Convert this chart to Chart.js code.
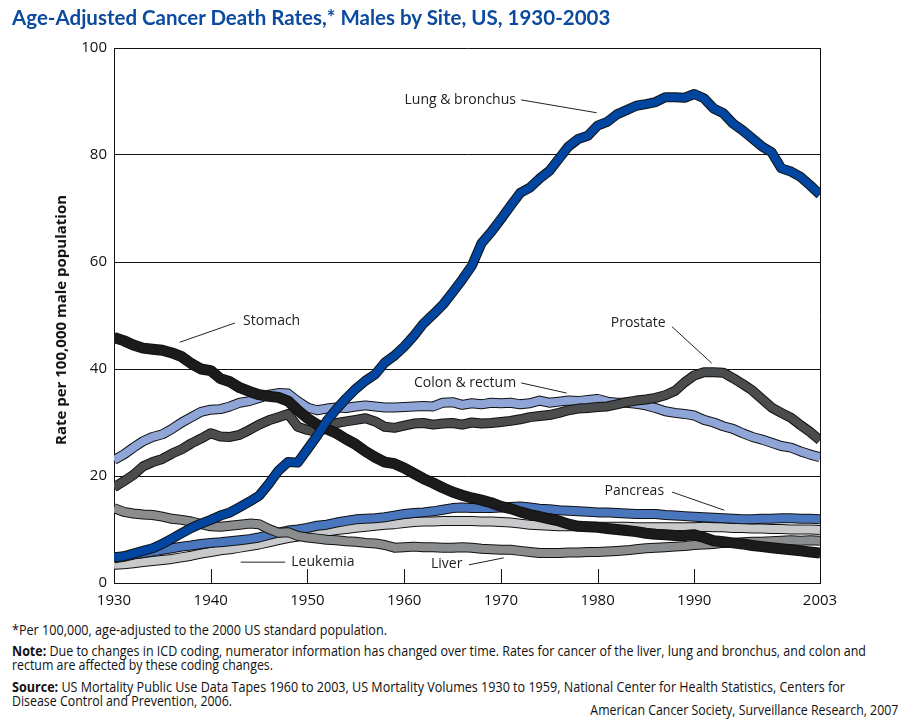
<!DOCTYPE html>
<html>
<head>
<meta charset="utf-8">
<script src="https://cdn.jsdelivr.net/npm/chart.js@4.4.1/dist/chart.umd.min.js"></script>
<style>
  html, body { margin: 0; padding: 0; background: #fff; }
  body { width: 908px; height: 728px; position: relative; overflow: hidden; font-family: "Open Sans", sans-serif; color: #111; }
  #chart { position: absolute; left: 0; top: 0; }
  .title { position: absolute; left: 12px; top: 5px; font-family: Lato, sans-serif; font-weight: bold; font-size: 20.5px; color: #0b4a9e; white-space: nowrap; }
  .ytitle { position: absolute; left: 60px; top: 320px; transform: translate(-50%, -50%) rotate(-90deg); font-weight: bold; font-size: 15px; white-space: nowrap; }
  .foot { position: absolute; left: 12px; font-size: 14px; line-height: 17px; white-space: nowrap; transform-origin: 0 50%; }
  .foot.right { left: auto; right: 10px; transform-origin: 100% 50%; }
</style>
</head>
<body>
<canvas id="chart" width="908" height="620"></canvas>
<div class="title">Age-Adjusted Cancer Death Rates,* Males by Site, US, 1930-2003</div>
<div class="ytitle">Rate per 100,000 male population</div>
<div class="foot" data-w="375" style="top:621px">*Per 100,000, age-adjusted to the 2000 US standard population.</div>
<div class="foot" data-w="854" style="top:642px"><b>Note:</b> Due to changes in ICD coding, numerator information has changed over time. Rates for cancer of the liver, lung and bronchus, and colon and</div>
<div class="foot" data-w="261" style="top:656px">rectum are affected by these coding changes.</div>
<div class="foot" data-w="833" style="top:678px"><b>Source:</b> US Mortality Public Use Data Tapes 1960 to 2003, US Mortality Volumes 1930 to 1959, National Center for Health Statistics, Centers for</div>
<div class="foot" data-w="220" style="top:692px">Disease Control and Prevention, 2006.</div>
<div class="foot right" data-w="308" style="top:701px">American Cancer Society, Surveillance Research, 2007</div>
<script>
// years 1930..2003
const firstYear = 1930;
const lastYear = 2003;
const years = [];
for (let y = firstYear; y <= lastYear; y++) years.push(y);

const xTickYears = [1930, 1940, 1950, 1960, 1970, 1980, 1990, 2003];
const yTickValues = [0, 20, 40, 60, 80, 100];

const lung = [
  4.8, 5.0, 5.5, 6.0, 6.5, 7.3, 8.3, 9.3, 10.3, 11.1,
  11.8, 12.6, 13.2, 14.2, 15.2, 16.3, 18.5, 21.0, 22.6, 22.5,
  25.0, 27.5, 30.3, 32.5, 34.5, 36.3, 37.8, 39.0, 41.2, 42.5,
  44.2, 46.2, 48.5, 50.2, 52.0, 54.3, 56.7, 59.3, 63.5, 65.6,
  68.0, 70.5, 72.9, 73.9, 75.6, 77.0, 79.3, 81.6, 83.0, 83.6,
  85.5, 86.2, 87.6, 88.4, 89.2, 89.5, 89.9, 90.8, 90.8, 90.7,
  91.4, 90.6, 88.7, 87.8, 85.9, 84.6, 83.1, 81.6, 80.5, 77.5,
  76.9, 75.9, 74.3, 72.6
];
const stomach = [
  45.9, 45.3, 44.5, 43.9, 43.7, 43.5, 43.0, 42.3, 41.0, 40.0,
  39.7, 38.2, 37.6, 36.5, 35.8, 35.2, 34.9, 34.7, 34.0, 32.3,
  30.8, 29.6, 28.8, 28.0, 26.9, 25.9, 24.6, 23.5, 22.6, 22.3,
  21.5, 20.5, 19.5, 18.7, 17.8, 17.0, 16.4, 15.9, 15.5, 15.0,
  14.3, 13.9, 13.3, 12.8, 12.4, 12.0, 11.6, 11.0, 10.6, 10.5,
  10.4, 10.2, 10.0, 9.8, 9.6, 9.3, 9.1, 9.0, 8.9, 8.9,
  9.0, 8.5, 7.9, 7.7, 7.5, 7.3, 7.0, 6.8, 6.6, 6.4,
  6.2, 6.0, 5.8, 5.6
];
const colon = [
  23.0, 24.0, 25.3, 26.5, 27.3, 27.8, 28.8, 30.0, 31.0, 32.0,
  32.4, 32.5, 33.0, 33.7, 34.0, 34.6, 35.2, 35.5, 35.4, 34.0,
  32.8, 32.3, 32.6, 32.8, 32.7, 33.0, 33.2, 33.0, 32.8, 32.8,
  32.9, 33.0, 33.1, 33.0, 33.7, 33.8, 33.3, 33.6, 33.4, 33.7,
  33.6, 33.7, 33.4, 33.6, 34.1, 33.7, 33.9, 34.1, 34.0, 34.2,
  34.4, 33.9, 33.7, 33.7, 33.5, 33.2, 32.7, 32.1, 31.8, 31.6,
  31.3, 30.5, 30.0, 29.3, 28.8, 28.0, 27.3, 26.8, 26.2, 25.6,
  25.3, 24.6, 24.0, 23.5
];
const prostate = [
  17.9, 19.0, 20.2, 21.8, 22.6, 23.2, 24.2, 25.0, 26.1, 27.0,
  28.0, 27.4, 27.3, 27.7, 28.6, 29.6, 30.4, 31.0, 31.6, 29.2,
  28.6, 28.2, 29.0, 29.9, 30.2, 30.5, 30.8, 30.2, 29.2, 29.0,
  29.4, 29.8, 29.9, 29.6, 29.8, 29.9, 29.6, 30.0, 29.8, 29.9,
  30.1, 30.3, 30.6, 31.0, 31.2, 31.4, 31.8, 32.3, 32.6, 32.7,
  32.9, 33.0, 33.4, 33.8, 34.1, 34.3, 34.6, 35.1, 35.9, 37.5,
  38.8, 39.4, 39.4, 39.3, 38.3, 37.2, 36.0, 34.4, 32.8, 31.8,
  30.9, 29.5, 28.2, 26.7
];
const pancreas = [
  4.6, 4.9, 5.3, 5.6, 5.9, 6.2, 6.5, 6.8, 7.0, 7.3,
  7.5, 7.6, 7.8, 8.0, 8.2, 8.5, 9.0, 9.4, 9.8, 10.0,
  10.3, 10.7, 10.9, 11.3, 11.6, 11.9, 12.0, 12.1, 12.3, 12.6,
  12.9, 13.1, 13.2, 13.4, 13.7, 14.0, 14.1, 14.0, 14.0, 14.0,
  14.1, 14.2, 14.3, 14.1, 13.9, 13.8, 13.6, 13.5, 13.4, 13.3,
  13.2, 13.2, 13.1, 13.0, 12.9, 12.9, 12.9, 12.7, 12.6, 12.5,
  12.4, 12.3, 12.2, 12.1, 12.0, 11.9, 11.9, 12.0, 12.0, 12.1,
  12.1, 12.0, 12.0, 11.9
];
const leukemia = [
  3.4, 3.5, 3.7, 3.9, 4.1, 4.3, 4.5, 4.8, 5.1, 5.5,
  5.8, 6.1, 6.3, 6.6, 6.9, 7.2, 7.6, 8.0, 8.4, 8.7,
  9.0, 9.3, 9.6, 9.9, 10.1, 10.3, 10.5, 10.7, 10.9, 11.0,
  11.2, 11.4, 11.5, 11.5, 11.6, 11.6, 11.6, 11.6, 11.5, 11.5,
  11.4, 11.3, 11.1, 10.9, 10.8, 10.7, 10.6, 10.6, 10.6, 10.5,
  10.5, 10.5, 10.5, 10.5, 10.4, 10.4, 10.4, 10.4, 10.4, 10.4,
  10.4, 10.5, 10.4, 10.4, 10.3, 10.3, 10.2, 10.2, 10.1, 10.1,
  10.0, 10.0, 10.0, 9.9
];
const liver = [
  14.0, 13.3, 13.0, 12.8, 12.7, 12.4, 12.0, 11.8, 11.5, 11.0,
  10.6, 10.5, 10.7, 10.9, 11.1, 11.0, 10.1, 9.4, 9.5, 8.8,
  8.5, 8.3, 8.1, 8.0, 7.8, 7.7, 7.5, 7.4, 7.1, 6.6,
  6.7, 6.8, 6.7, 6.7, 6.6, 6.6, 6.7, 6.6, 6.4, 6.3,
  6.2, 6.2, 6.0, 5.8, 5.6, 5.6, 5.6, 5.7, 5.7, 5.8,
  5.8, 5.9, 6.0, 6.1, 6.3, 6.5, 6.6, 6.7, 6.8, 6.9,
  7.1, 7.2, 7.3, 7.5, 7.5, 7.6, 7.7, 7.7, 7.8, 7.9,
  8.0, 7.9, 8.0, 7.9
];

// top of the stack first
const series = [
  { name: "Lung & bronchus", data: lung, color: "#0046a0", width: 8 },
  { name: "Stomach", data: stomach, color: "#1b1b1b", width: 9 },
  { name: "Prostate", data: prostate, color: "#4b4c4e", width: 8 },
  { name: "Colon & rectum", data: colon, color: "#8fa5d8", width: 8 },
  { name: "Liver", data: liver, color: "#8a8c8e", width: 8 },
  { name: "Pancreas", data: pancreas, color: "#4a76bd", width: 8 },
  { name: "Leukemia", data: leukemia, color: "#c8c9cb", width: 8 }
];

// text labels with leader lines, in data units
const notes = [
  { text: "Lung & bronchus", at: [1965.8, 90.3], line: [[1972.1, 90.3], [1979.9, 87.9]] },
  { text: "Stomach", at: [1946.3, 49.0], line: [[1942.5, 48.6], [1936.8, 45.0]] },
  { text: "Prostate", at: [1984.2, 48.6], line: [[1987.7, 47.9], [1991.8, 41.1]] },
  { text: "Colon & rectum", at: [1966.3, 37.4], line: [[1972.1, 37.4], [1976.8, 35.5]] },
  { text: "Pancreas", at: [1983.8, 17.2], line: [[1987.7, 17.0], [1993.1, 13.6]] },
  { text: "Leukemia", at: [1951.6, 3.9], line: [[1943.1, 3.9], [1947.7, 3.9]] },
  { text: "Liver", at: [1964.4, 3.6], line: [[1966.7, 3.4], [1970.3, 4.7]] }
];

const datasets = [];
series.forEach((s, i) => {
  const pts = years.map((y, j) => ({ x: y, y: s.data[j] }));
  datasets.push({
    label: s.name + " outline",
    data: pts,
    borderColor: "#111",
    borderWidth: s.width + 2,
    order: i * 2 + 1
  });
  datasets.push({
    label: s.name,
    data: pts,
    borderColor: s.color,
    borderWidth: s.width,
    order: i * 2
  });
});

const framePlugin = {
  id: "frame",
  beforeDatasetsDraw(chart) {
    const { ctx, chartArea: a, scales: { x } } = chart;
    ctx.save();
    ctx.strokeStyle = "#111";
    ctx.lineWidth = 1;
    ctx.beginPath();
    ctx.moveTo(a.right + 0.5, a.top);
    ctx.lineTo(a.right + 0.5, a.bottom);
    xTickYears.slice(1, -1).forEach(v => {
      const px = Math.round(x.getPixelForValue(v)) + 0.5;
      ctx.moveTo(px, a.bottom);
      ctx.lineTo(px, a.bottom - 14);
    });
    ctx.stroke();
    ctx.restore();
  },
  afterDraw(chart) {
    const { ctx, scales: { x, y } } = chart;
    ctx.save();
    ctx.fillStyle = "#222";
    ctx.strokeStyle = "#222";
    ctx.lineWidth = 1;
    ctx.font = "14px 'Open Sans', sans-serif";
    ctx.textAlign = "center";
    ctx.textBaseline = "middle";
    notes.forEach(n => {
      ctx.fillText(n.text, x.getPixelForValue(n.at[0]), y.getPixelForValue(n.at[1]));
      ctx.beginPath();
      ctx.moveTo(x.getPixelForValue(n.line[0][0]), y.getPixelForValue(n.line[0][1]));
      ctx.lineTo(x.getPixelForValue(n.line[1][0]), y.getPixelForValue(n.line[1][1]));
      ctx.stroke();
    });
    ctx.restore();
  }
};

new Chart(document.getElementById("chart"), {
  type: "line",
  data: { datasets },
  options: {
    responsive: false,
    animation: false,
    devicePixelRatio: 1,
    layout: { padding: { left: 0, top: 48, right: 88, bottom: 0 } },
    elements: {
      point: { radius: 0 },
      line: { tension: 0, borderJoinStyle: "round", fill: false }
    },
    plugins: { legend: { display: false }, tooltip: { enabled: false } },
    scales: {
      x: {
        type: "linear",
        min: firstYear,
        max: lastYear,
        afterBuildTicks: s => { s.ticks = xTickYears.map(v => ({ value: v })); },
        afterFit: s => { s.height = 37; },
        grid: { display: false, drawTicks: false },
        border: { display: true, color: "#111", width: 1 },
        ticks: {
          color: "#111",
          font: { family: "Open Sans", size: 15 },
          padding: 9,
          maxRotation: 0,
          autoSkip: false,
          callback: v => String(v)
        }
      },
      y: {
        min: 0,
        max: 100,
        afterBuildTicks: s => { s.ticks = yTickValues.map(v => ({ value: v })); },
        afterFit: s => { s.width = 114; },
        grid: { color: "#111", lineWidth: 1, drawTicks: false },
        border: { display: true, color: "#111", width: 1 },
        ticks: {
          color: "#111",
          font: { family: "Open Sans", size: 15 },
          padding: 7
        }
      }
    }
  },
  plugins: [framePlugin]
});

// squeeze footnote lines to the widths of the original
document.querySelectorAll(".foot").forEach(el => {
  const w = el.getBoundingClientRect().width;
  const target = Number(el.dataset.w);
  if (w > 0) el.style.transform = "scaleX(" + (target / w) + ")";
});
</script>
</body>
</html>
